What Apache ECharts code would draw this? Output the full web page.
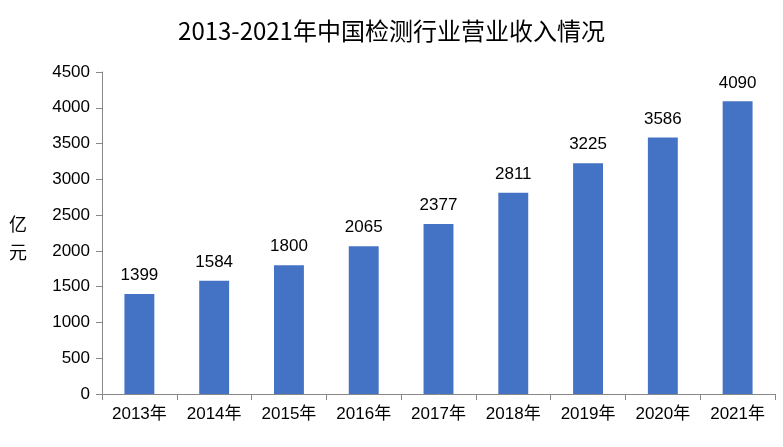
<!DOCTYPE html>
<html><head><meta charset="utf-8">
<script src="https://cdn.jsdelivr.net/npm/echarts@6/dist/echarts.min.js"></script>
<style>html,body{margin:0;padding:0;background:#fff}#c{width:783px;height:447px}</style>
</head><body><div id="c"></div>
<script>
const categories = ['2013年','2014年','2015年','2016年','2017年','2018年','2019年','2020年','2021年'];
const revenue = [1399,1584,1800,2065,2377,2811,3225,3586,4090];
const titleText = '2013-2021年中国检测行业营业收入情况';
const yName = '亿\n元';

const chart = echarts.init(document.getElementById('c'));
const font = '"Liberation Sans", Arial, "Noto Sans CJK SC", sans-serif';
chart.setOption({
  animation: false,
  backgroundColor: '#fff',
  title: {text: titleText, left: 'center', top: 14,
    textStyle: {fontFamily: '"Noto Sans CJK SC", sans-serif', fontSize: 24, fontWeight: 'normal', color: '#000'}},
  graphic: [{type: 'text', left: 9, top: 210,
    style: {text: yName, font: '18px "Noto Sans CJK SC", sans-serif', fill: '#000', lineHeight: 28}}],
  grid: {left: 102, right: 8, top: 72, bottom: 53},
  xAxis: {type: 'category', data: categories,
    axisLine: {lineStyle: {color: '#888'}},
    axisTick: {show: true, length: 6, lineStyle: {color: '#888'}},
    axisLabel: {color: '#000', fontSize: 17, fontFamily: font, margin: 12}},
  yAxis: {type: 'value', min: 0, max: 4500, interval: 500,
    axisLine: {show: true, lineStyle: {color: '#888'}},
    axisTick: {show: true, inside: false, length: 6, lineStyle: {color: '#888'}},
    splitLine: {show: false},
    axisLabel: {color: '#000', fontSize: 17, fontFamily: font, margin: 12, formatter: v => String(v)}},
  series: [{type: 'bar', data: revenue, barWidth: '40%',
    itemStyle: {color: '#4472C4'},
    label: {show: true, position: 'top', distance: 10, color: '#000', fontSize: 17, fontFamily: font}}]
});
</script></body></html>
